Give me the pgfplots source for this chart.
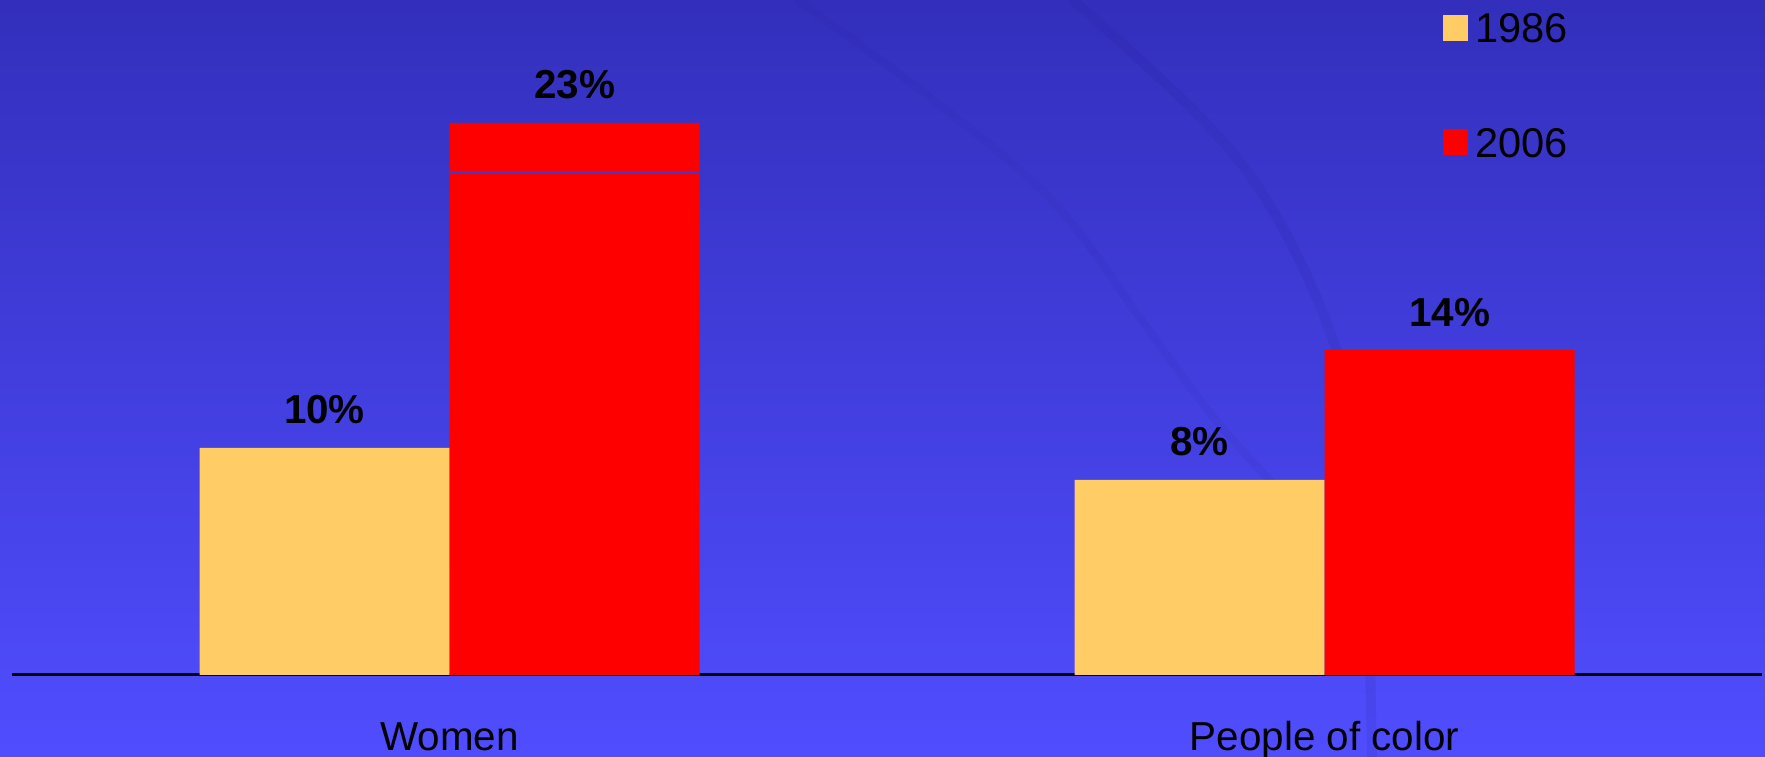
\documentclass[border=0pt]{standalone}
\usepackage{fontspec}
\setmainfont{Liberation Sans}
\usepackage{pgfplots}
\pgfplotsset{compat=1.18}
\definecolor{barY}{RGB}{255,204,102}
\definecolor{barR}{RGB}{255,0,0}
\definecolor{bgTop}{RGB}{51,47,188}
\definecolor{bgBot}{RGB}{80,77,255}
\definecolor{arcC}{RGB}{35,30,150}
\definecolor{seam}{RGB}{64,60,210}
\begin{document}
\begin{tikzpicture}
\path[use as bounding box] (0,0) rectangle (441.25pt,189.25pt);
\clip (0,0) rectangle (441.25pt,189.25pt);
\shade[top color=bgTop, bottom color=bgBot] (0,0) rectangle (441.25pt,189.25pt);
% faint decorative arcs of the background
\draw[arcC, opacity=0.12, line width=2.5pt] plot[smooth, tension=0.6] coordinates {(268pt,189.5pt) (300pt,160pt) (318pt,137pt) (333pt,105pt) (340pt,75pt) (342pt,40pt) (343pt,0pt)};
\draw[arcC, opacity=0.08, line width=2pt] plot[smooth, tension=0.6] coordinates {(199pt,189.5pt) (235pt,163pt) (264pt,138pt) (287pt,107pt) (305pt,83pt) (328pt,58pt)};
\begin{axis}[
  at={(3pt,20.5pt)}, anchor=south west,
  scale only axis, width=437.5pt, height=168.75pt,
  xmin=-0.5, xmax=1.5, ymin=0, ymax=28.125,
  clip=false,
  axis x line*=bottom, axis y line=none,
  x axis line style={black, line width=0.75pt},
  ybar=0pt, bar width=62.5pt,
  xtick=data, xticklabels={Women, People of color},
  major tick length=0pt,
  xticklabel style={anchor=base, yshift=-19pt, font=\fontsize{10.1}{12}\selectfont, text=black},
  point meta=explicit symbolic,
  nodes near coords,
  nodes near coords style={font=\bfseries\fontsize{10.1}{12}\selectfont, anchor=base, yshift=6pt, text=black},
  legend image code/.code={\fill[#1] (0pt,-2.3pt) rectangle (6.25pt,4.2pt);},
  legend style={at={(0.8171,0.9805)}, anchor=north west, draw=none, fill=none,
    inner sep=0pt, row sep=19.8pt, nodes={inner sep=0pt, text=black, font=\fontsize{10.4}{12}\selectfont},
    /tikz/every odd column/.append style={column sep=1.9pt}},
  legend cell align=left,
]
\addplot[fill=barY, draw=none] coordinates {(0,9.46) [10\%] (1,8.125) [8\%]};
\addplot[fill=barR, draw=none] coordinates {(0,23) [23\%] (1,13.54) [14\%]};
\legend{1986, 2006}
\draw[seam, line width=0.3pt] (axis cs:0,20.92) -- (axis cs:0.2857,20.92);
\end{axis}
\end{tikzpicture}
\end{document}
